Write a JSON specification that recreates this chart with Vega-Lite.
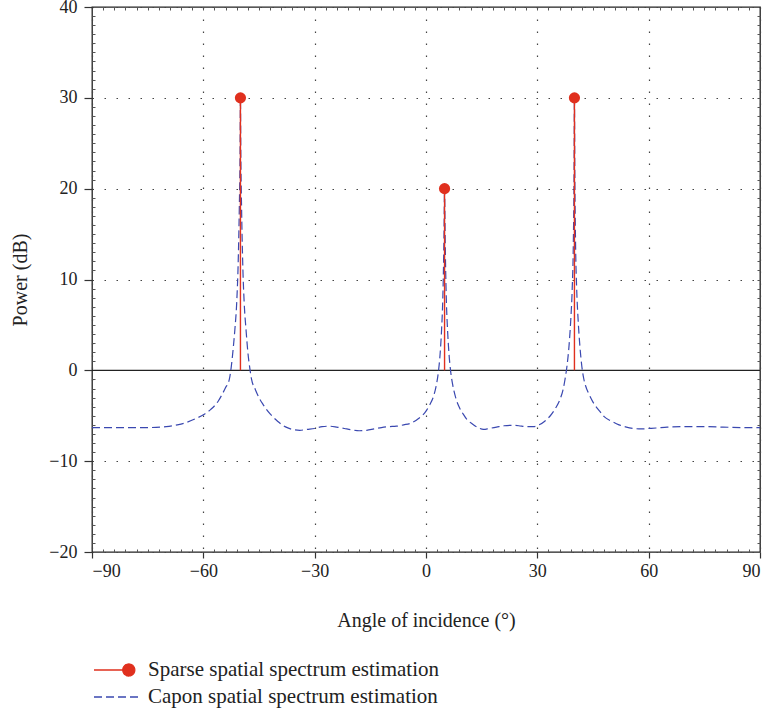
{
  "$schema": "https://vega.github.io/schema/vega-lite/v6.json",
  "width": 668,
  "height": 545,
  "autosize": {"type": "none"},
  "padding": {"left": 92, "top": 7, "right": 9, "bottom": 164},
  "background": "white",
  "config": {
    "view": {"stroke": "#222", "strokeWidth": 1.3},
    "font": "Liberation Serif",
    "axis": {
      "labelFont": "Liberation Serif",
      "titleFont": "Liberation Serif",
      "labelFontSize": 18,
      "titleFontSize": 20,
      "titleFontWeight": "normal",
      "labelColor": "#222",
      "titleColor": "#222",
      "tickColor": "#333",
      "domain": false
    }
  },
  "datasets": {
    "capon": [
      {"angle": -90, "power": -6.3, "series": "Capon spatial spectrum estimation"},
      {"angle": -80, "power": -6.3, "series": "Capon spatial spectrum estimation"},
      {"angle": -75, "power": -6.3, "series": "Capon spatial spectrum estimation"},
      {"angle": -70, "power": -6.2, "series": "Capon spatial spectrum estimation"},
      {"angle": -67, "power": -6.0, "series": "Capon spatial spectrum estimation"},
      {"angle": -65, "power": -5.8, "series": "Capon spatial spectrum estimation"},
      {"angle": -62, "power": -5.3, "series": "Capon spatial spectrum estimation"},
      {"angle": -60, "power": -4.9, "series": "Capon spatial spectrum estimation"},
      {"angle": -58, "power": -4.3, "series": "Capon spatial spectrum estimation"},
      {"angle": -56, "power": -3.4, "series": "Capon spatial spectrum estimation"},
      {"angle": -55, "power": -2.7, "series": "Capon spatial spectrum estimation"},
      {"angle": -54, "power": -1.9, "series": "Capon spatial spectrum estimation"},
      {"angle": -53, "power": -1.0, "series": "Capon spatial spectrum estimation"},
      {"angle": -52.5, "power": 0.3, "series": "Capon spatial spectrum estimation"},
      {"angle": -52, "power": 2.2, "series": "Capon spatial spectrum estimation"},
      {"angle": -51.5, "power": 4.5, "series": "Capon spatial spectrum estimation"},
      {"angle": -51, "power": 7.5, "series": "Capon spatial spectrum estimation"},
      {"angle": -50.6, "power": 12, "series": "Capon spatial spectrum estimation"},
      {"angle": -50.3, "power": 18, "series": "Capon spatial spectrum estimation"},
      {"angle": -50.1, "power": 24, "series": "Capon spatial spectrum estimation"},
      {"angle": -50, "power": 30, "series": "Capon spatial spectrum estimation"},
      {"angle": -49.9, "power": 24, "series": "Capon spatial spectrum estimation"},
      {"angle": -49.7, "power": 18, "series": "Capon spatial spectrum estimation"},
      {"angle": -49.4, "power": 12, "series": "Capon spatial spectrum estimation"},
      {"angle": -49, "power": 7.5, "series": "Capon spatial spectrum estimation"},
      {"angle": -48.5, "power": 4.5, "series": "Capon spatial spectrum estimation"},
      {"angle": -48, "power": 2, "series": "Capon spatial spectrum estimation"},
      {"angle": -47.5, "power": 0.3, "series": "Capon spatial spectrum estimation"},
      {"angle": -47, "power": -1.0, "series": "Capon spatial spectrum estimation"},
      {"angle": -46, "power": -2.1, "series": "Capon spatial spectrum estimation"},
      {"angle": -45, "power": -3.0, "series": "Capon spatial spectrum estimation"},
      {"angle": -44, "power": -3.7, "series": "Capon spatial spectrum estimation"},
      {"angle": -43, "power": -4.3, "series": "Capon spatial spectrum estimation"},
      {"angle": -42, "power": -4.8, "series": "Capon spatial spectrum estimation"},
      {"angle": -40, "power": -5.6, "series": "Capon spatial spectrum estimation"},
      {"angle": -38, "power": -6.2, "series": "Capon spatial spectrum estimation"},
      {"angle": -36, "power": -6.5, "series": "Capon spatial spectrum estimation"},
      {"angle": -34, "power": -6.6, "series": "Capon spatial spectrum estimation"},
      {"angle": -32, "power": -6.5, "series": "Capon spatial spectrum estimation"},
      {"angle": -30, "power": -6.4, "series": "Capon spatial spectrum estimation"},
      {"angle": -28, "power": -6.2, "series": "Capon spatial spectrum estimation"},
      {"angle": -26, "power": -6.15, "series": "Capon spatial spectrum estimation"},
      {"angle": -24, "power": -6.25, "series": "Capon spatial spectrum estimation"},
      {"angle": -22, "power": -6.4, "series": "Capon spatial spectrum estimation"},
      {"angle": -20, "power": -6.55, "series": "Capon spatial spectrum estimation"},
      {"angle": -18, "power": -6.65, "series": "Capon spatial spectrum estimation"},
      {"angle": -16, "power": -6.6, "series": "Capon spatial spectrum estimation"},
      {"angle": -14, "power": -6.45, "series": "Capon spatial spectrum estimation"},
      {"angle": -12, "power": -6.3, "series": "Capon spatial spectrum estimation"},
      {"angle": -10, "power": -6.2, "series": "Capon spatial spectrum estimation"},
      {"angle": -8, "power": -6.15, "series": "Capon spatial spectrum estimation"},
      {"angle": -6, "power": -6.0, "series": "Capon spatial spectrum estimation"},
      {"angle": -4, "power": -5.8, "series": "Capon spatial spectrum estimation"},
      {"angle": -2, "power": -5.3, "series": "Capon spatial spectrum estimation"},
      {"angle": 0, "power": -4.5, "series": "Capon spatial spectrum estimation"},
      {"angle": 1, "power": -3.8, "series": "Capon spatial spectrum estimation"},
      {"angle": 2, "power": -2.9, "series": "Capon spatial spectrum estimation"},
      {"angle": 2.8, "power": -1.6, "series": "Capon spatial spectrum estimation"},
      {"angle": 3.3, "power": -0.3, "series": "Capon spatial spectrum estimation"},
      {"angle": 3.8, "power": 1.8, "series": "Capon spatial spectrum estimation"},
      {"angle": 4.2, "power": 4.5, "series": "Capon spatial spectrum estimation"},
      {"angle": 4.5, "power": 7.5, "series": "Capon spatial spectrum estimation"},
      {"angle": 4.7, "power": 11, "series": "Capon spatial spectrum estimation"},
      {"angle": 4.85, "power": 15, "series": "Capon spatial spectrum estimation"},
      {"angle": 5, "power": 20, "series": "Capon spatial spectrum estimation"},
      {"angle": 5.15, "power": 15, "series": "Capon spatial spectrum estimation"},
      {"angle": 5.3, "power": 11, "series": "Capon spatial spectrum estimation"},
      {"angle": 5.5, "power": 7.5, "series": "Capon spatial spectrum estimation"},
      {"angle": 5.8, "power": 4.5, "series": "Capon spatial spectrum estimation"},
      {"angle": 6.2, "power": 1.8, "series": "Capon spatial spectrum estimation"},
      {"angle": 6.7, "power": -0.3, "series": "Capon spatial spectrum estimation"},
      {"angle": 7.2, "power": -1.6, "series": "Capon spatial spectrum estimation"},
      {"angle": 8, "power": -3.0, "series": "Capon spatial spectrum estimation"},
      {"angle": 9, "power": -4.1, "series": "Capon spatial spectrum estimation"},
      {"angle": 10, "power": -4.8, "series": "Capon spatial spectrum estimation"},
      {"angle": 11, "power": -5.4, "series": "Capon spatial spectrum estimation"},
      {"angle": 12.5, "power": -5.9, "series": "Capon spatial spectrum estimation"},
      {"angle": 14, "power": -6.3, "series": "Capon spatial spectrum estimation"},
      {"angle": 15.5, "power": -6.5, "series": "Capon spatial spectrum estimation"},
      {"angle": 17, "power": -6.4, "series": "Capon spatial spectrum estimation"},
      {"angle": 19, "power": -6.25, "series": "Capon spatial spectrum estimation"},
      {"angle": 21, "power": -6.1, "series": "Capon spatial spectrum estimation"},
      {"angle": 23, "power": -6.05, "series": "Capon spatial spectrum estimation"},
      {"angle": 25, "power": -6.1, "series": "Capon spatial spectrum estimation"},
      {"angle": 27, "power": -6.2, "series": "Capon spatial spectrum estimation"},
      {"angle": 29, "power": -6.2, "series": "Capon spatial spectrum estimation"},
      {"angle": 30.5, "power": -6.0, "series": "Capon spatial spectrum estimation"},
      {"angle": 32, "power": -5.6, "series": "Capon spatial spectrum estimation"},
      {"angle": 33.5, "power": -5.0, "series": "Capon spatial spectrum estimation"},
      {"angle": 35, "power": -4.1, "series": "Capon spatial spectrum estimation"},
      {"angle": 36, "power": -3.3, "series": "Capon spatial spectrum estimation"},
      {"angle": 37, "power": -2.0, "series": "Capon spatial spectrum estimation"},
      {"angle": 37.5, "power": -0.9, "series": "Capon spatial spectrum estimation"},
      {"angle": 38, "power": 0.5, "series": "Capon spatial spectrum estimation"},
      {"angle": 38.5, "power": 2.5, "series": "Capon spatial spectrum estimation"},
      {"angle": 39, "power": 5.5, "series": "Capon spatial spectrum estimation"},
      {"angle": 39.4, "power": 9, "series": "Capon spatial spectrum estimation"},
      {"angle": 39.7, "power": 14, "series": "Capon spatial spectrum estimation"},
      {"angle": 39.9, "power": 22, "series": "Capon spatial spectrum estimation"},
      {"angle": 40, "power": 30, "series": "Capon spatial spectrum estimation"},
      {"angle": 40.1, "power": 22, "series": "Capon spatial spectrum estimation"},
      {"angle": 40.3, "power": 14, "series": "Capon spatial spectrum estimation"},
      {"angle": 40.6, "power": 9, "series": "Capon spatial spectrum estimation"},
      {"angle": 41, "power": 5.5, "series": "Capon spatial spectrum estimation"},
      {"angle": 41.5, "power": 2.5, "series": "Capon spatial spectrum estimation"},
      {"angle": 42, "power": 0.4, "series": "Capon spatial spectrum estimation"},
      {"angle": 42.5, "power": -0.9, "series": "Capon spatial spectrum estimation"},
      {"angle": 43, "power": -1.7, "series": "Capon spatial spectrum estimation"},
      {"angle": 44, "power": -2.7, "series": "Capon spatial spectrum estimation"},
      {"angle": 45, "power": -3.5, "series": "Capon spatial spectrum estimation"},
      {"angle": 46, "power": -4.1, "series": "Capon spatial spectrum estimation"},
      {"angle": 47, "power": -4.6, "series": "Capon spatial spectrum estimation"},
      {"angle": 48, "power": -5.1, "series": "Capon spatial spectrum estimation"},
      {"angle": 50, "power": -5.6, "series": "Capon spatial spectrum estimation"},
      {"angle": 52, "power": -6.0, "series": "Capon spatial spectrum estimation"},
      {"angle": 54, "power": -6.25, "series": "Capon spatial spectrum estimation"},
      {"angle": 56, "power": -6.4, "series": "Capon spatial spectrum estimation"},
      {"angle": 58, "power": -6.45, "series": "Capon spatial spectrum estimation"},
      {"angle": 60, "power": -6.4, "series": "Capon spatial spectrum estimation"},
      {"angle": 62, "power": -6.35, "series": "Capon spatial spectrum estimation"},
      {"angle": 65, "power": -6.25, "series": "Capon spatial spectrum estimation"},
      {"angle": 70, "power": -6.2, "series": "Capon spatial spectrum estimation"},
      {"angle": 75, "power": -6.2, "series": "Capon spatial spectrum estimation"},
      {"angle": 80, "power": -6.25, "series": "Capon spatial spectrum estimation"},
      {"angle": 85, "power": -6.3, "series": "Capon spatial spectrum estimation"},
      {"angle": 90, "power": -6.3, "series": "Capon spatial spectrum estimation"}
    ],
    "sparse": [
      {"angle": -50, "power": 30, "series": "Sparse spatial spectrum estimation"},
      {"angle": 5, "power": 20, "series": "Sparse spatial spectrum estimation"},
      {"angle": 40, "power": 30, "series": "Sparse spatial spectrum estimation"}
    ],
    "zero": [{"level": 0}]
  },
  "resolve": {"axis": {"x": "independent", "y": "independent"}},
  "layer": [
    {
      "data": {"name": "zero"},
      "mark": {"type": "rule", "color": "#222", "strokeWidth": 1.3},
      "encoding": {
        "y": {"field": "level", "type": "quantitative", "scale": {"domain": [-20, 40], "nice": false, "zero": false}, "axis": null}
      }
    },
    {
      "data": {"name": "capon"},
      "mark": {"type": "line", "strokeWidth": 1.2, "strokeDash": [8, 4], "interpolate": "monotone", "clip": true},
      "encoding": {
        "x": {
          "field": "angle", "type": "quantitative",
          "scale": {"domain": [-90, 90], "nice": false, "zero": false},
          "axis": {
            "orient": "bottom",
            "title": "Angle of incidence (°)",
            "values": [-90, -60, -30, 0, 30, 60, 90],
            "tickSize": 6, "tickWidth": 1.2, "labelPadding": 4, "titlePadding": 30,
            "grid": true, "gridDash": [1.5, 10.5], "gridColor": "#444", "gridWidth": 1.2
          }
        },
        "y": {
          "field": "power", "type": "quantitative",
          "scale": {"domain": [-20, 40], "nice": false, "zero": false},
          "axis": {
            "orient": "left",
            "title": "Power (dB)",
            "values": [-20, -10, 0, 10, 20, 30, 40],
            "tickSize": 8, "tickWidth": 1.2, "labelPadding": 7, "titlePadding": 18,
            "grid": true, "gridDash": [1.5, 10.5], "gridColor": "#444", "gridWidth": 1.2
          }
        },
        "color": {
          "field": "series", "type": "nominal",
          "scale": {
            "domain": ["Sparse spatial spectrum estimation", "Capon spatial spectrum estimation"],
            "range": ["#e0301e", "#3a48b0"]
          },
          "legend": {
            "orient": "none",
            "legendX": 1,
            "legendY": 650,
            "title": null,
            "direction": "vertical",
            "symbolType": "stroke",
            "symbolSize": 576,
            "symbolStrokeWidth": 1.3,
            "labelFont": "Liberation Serif",
            "labelFontSize": 21,
            "labelColor": "#222",
            "labelOffset": 29,
            "labelLimit": 450,
            "rowPadding": 4,
            "padding": 0,
            "encode": {
              "symbols": {
                "update": {
                  "shape": [
                    {"test": "datum.value === 'Sparse spatial spectrum estimation'", "value": "M-1,0L1.9,0M1.4,0A0.5,0.5,0,1,0,2.4,0A0.5,0.5,0,1,0,1.4,0Z"},
                    {"value": "M-1,0L3,0"}
                  ],
                  "fill": [
                    {"test": "datum.value === 'Sparse spatial spectrum estimation'", "value": "#e0301e"},
                    {"value": "transparent"}
                  ],
                  "strokeDash": [
                    {"test": "datum.value === 'Capon spatial spectrum estimation'", "value": [8, 4]},
                    {"value": [1, 0]}
                  ]
                }
              }
            }
          }
        }
      }
    },
    {
      "data": {"name": "sparse"},
      "mark": {"type": "rule", "strokeWidth": 1.4},
      "encoding": {
        "x": {
          "field": "angle", "type": "quantitative",
          "axis": {
            "orient": "bottom", "title": null, "labels": false, "grid": false,
            "values": [-87,-84,-81,-78,-75,-72,-69,-66,-63,-57,-54,-51,-48,-45,-42,-39,-36,-33,-27,-24,-21,-18,-15,-12,-9,-6,-3,3,6,9,12,15,18,21,24,27,33,36,39,42,45,48,51,54,57,63,66,69,72,75,78,81,84,87],
            "tickSize": -3, "tickWidth": 1, "tickColor": "#555"
          }
        },
        "y": {
          "field": "power", "type": "quantitative",
          "axis": {
            "orient": "left", "title": null, "labels": false, "grid": false,
            "values": [-19,-18,-17,-16,-15,-14,-13,-12,-11,-9,-8,-7,-6,-5,-4,-3,-2,-1,1,2,3,4,5,6,7,8,9,11,12,13,14,15,16,17,18,19,21,22,23,24,25,26,27,28,29,31,32,33,34,35,36,37,38,39],
            "tickSize": -3, "tickWidth": 1, "tickColor": "#555"
          }
        },
        "y2": {"datum": 0},
        "color": {"field": "series", "type": "nominal", "legend": null}
      }
    },
    {
      "data": {"name": "sparse"},
      "mark": {"type": "circle", "size": 125, "opacity": 1},
      "encoding": {
        "x": {
          "field": "angle", "type": "quantitative",
          "axis": {
            "orient": "top", "title": null, "labels": false, "grid": false,
            "values": [-87,-84,-81,-78,-75,-72,-69,-66,-63,-60,-57,-54,-51,-48,-45,-42,-39,-36,-33,-30,-27,-24,-21,-18,-15,-12,-9,-6,-3,0,3,6,9,12,15,18,21,24,27,30,33,36,39,42,45,48,51,54,57,60,63,66,69,72,75,78,81,84,87],
            "tickSize": -3, "tickWidth": 1, "tickColor": "#555"
          }
        },
        "y": {
          "field": "power", "type": "quantitative",
          "axis": {
            "orient": "right", "title": null, "labels": false, "grid": false,
            "values": [-19,-18,-17,-16,-15,-14,-13,-12,-11,-10,-9,-8,-7,-6,-5,-4,-3,-2,-1,0,1,2,3,4,5,6,7,8,9,10,11,12,13,14,15,16,17,18,19,20,21,22,23,24,25,26,27,28,29,30,31,32,33,34,35,36,37,38,39],
            "tickSize": -3, "tickWidth": 1, "tickColor": "#555"
          }
        },
        "color": {"field": "series", "type": "nominal", "legend": null}
      }
    }
  ]
}
